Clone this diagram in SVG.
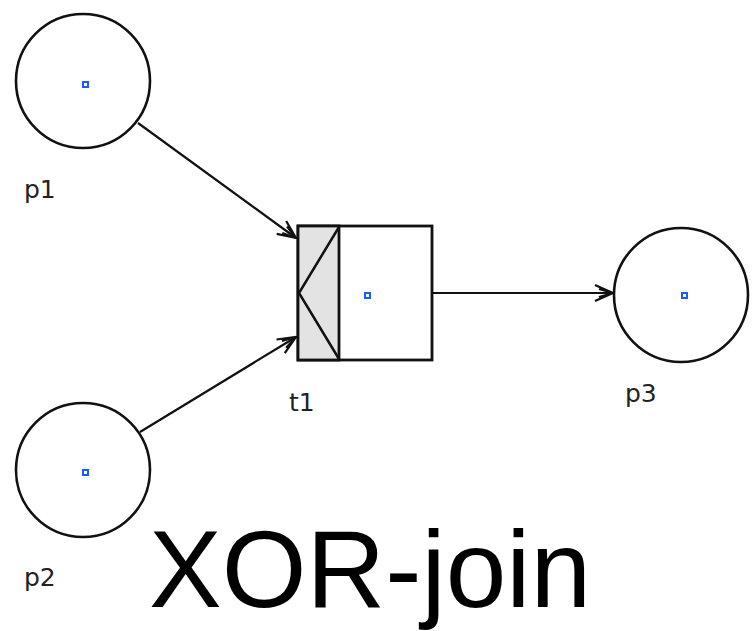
<svg xmlns="http://www.w3.org/2000/svg" width="753" height="631" viewBox="0 0 753 631">
<style>
.place{fill:#fff;stroke:#111;stroke-width:2.6}
.tok{fill:#fff;stroke:#1a5cff;stroke-width:2}
.lbl{font-family:"DejaVu Sans","Liberation Sans",sans-serif;font-size:25px;fill:#222}
.arc{fill:none;stroke:#111;stroke-width:2.2;marker-end:url(#vee)}
.trans{fill:#fff;stroke:#111;stroke-width:2.8}
</style>
<defs>
<marker id="vee" viewBox="0 0 20 20" refX="19" refY="10" markerWidth="20" markerHeight="20" markerUnits="userSpaceOnUse" orient="auto">
<path d="M1,2 L19,10 L1,18 M5,6 L19,10 L5,14" fill="none" stroke="#111" stroke-width="2.2"/>
</marker>
</defs>
<rect width="753" height="631" fill="#fff"/>
<g id="connectors">
<line class="arc" x1="138" y1="123" x2="296" y2="238"/>
<line class="arc" x1="140" y1="432" x2="296" y2="337"/>
<line class="arc" x1="433" y1="293" x2="613" y2="293"/>
</g>
<g id="p1">
<circle class="place" cx="83" cy="81" r="67"/>
<rect class="tok" x="83" y="82" width="5" height="5"/>
<text class="lbl" x="24" y="198">p1</text>
</g>
<g id="p2">
<circle class="place" cx="83" cy="470" r="67"/>
<rect class="tok" x="83" y="470" width="5" height="5"/>
<text class="lbl" x="24" y="586">p2</text>
</g>
<g id="p3">
<circle class="place" cx="681" cy="295" r="67"/>
<rect class="tok" x="682" y="293" width="5" height="5"/>
<text class="lbl" x="625" y="402">p3</text>
</g>
<g id="t1">
<rect class="trans" x="298" y="226" width="134" height="134"/>
<rect x="298" y="226" width="41" height="134" fill="#e3e3e3" stroke="#111" stroke-width="2.8"/>
<polyline points="339,227 299,293 339,359" fill="none" stroke="#111" stroke-width="2.5"/>
<rect class="tok" x="365" y="293" width="5" height="5"/>
<text class="lbl" x="289" y="411">t1</text>
</g>
<text id="title" x="149" y="607" font-family="Liberation Sans, Arial, sans-serif" font-size="109" fill="#000">XOR-join</text>
</svg>
